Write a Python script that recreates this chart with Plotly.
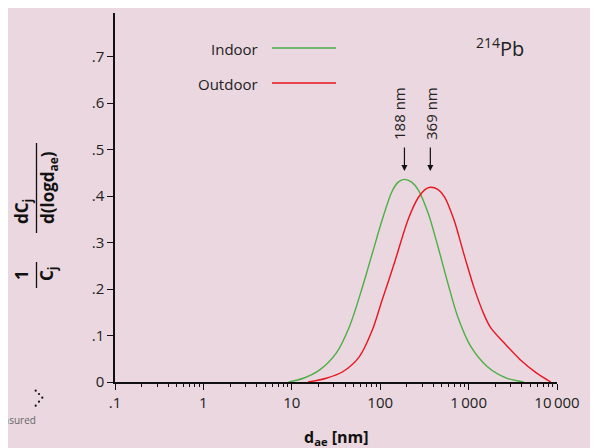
import math
import plotly.graph_objects as go

# ---- data ----
indoor_d = [9.2, 13.5, 20.7, 31.8, 44.8, 63.1, 81.5, 105, 136, 160, 188, 227, 270, 349, 452, 584, 755, 1062, 1632, 2729, 4180]
indoor_v = [0.0, 0.008, 0.026, 0.062, 0.119, 0.205, 0.277, 0.348, 0.410, 0.430, 0.436, 0.430, 0.413, 0.363, 0.290, 0.212, 0.140, 0.076, 0.033, 0.008, 0.0]

outdoor_d = [15.3, 24.5, 37.7, 57.9, 81.5, 105, 125, 148, 209, 270, 321, 369, 452, 535, 680, 895, 1156, 1496, 1775, 2500, 3837, 5890, 8510]
outdoor_v = [0.0, 0.008, 0.022, 0.054, 0.112, 0.176, 0.219, 0.262, 0.352, 0.397, 0.414, 0.419, 0.414, 0.398, 0.350, 0.272, 0.202, 0.145, 0.117, 0.085, 0.048, 0.019, 0.0]

peak_indoor = 188
peak_outdoor = 369

x_tickvals = [0.1, 1, 10, 100, 1000, 10000]
x_ticktext = [".1", "1", "10", "100", "1\u2009000", "10\u2009000"]
y_tickvals = [0, 0.1, 0.2, 0.3, 0.4, 0.5, 0.6, 0.7]
y_ticktext = ["0", ".1", ".2", ".3", ".4", ".5", ".6", ".7"]
minor_vals = [k * 10 ** e for e in range(-1, 4) for k in range(2, 10)]

GREEN = "#4caf45"
RED = "#e8151f"
BG = "#ead7df"
FONT = "Open Sans"

# page geometry: the figure is drawn 8 px in from the page's top-left corner
OFF = 8
W, H = 598, 448
# target page pixels of the plot area
PL, PR_, PT, PB = 115, 557, 13, 382
L = PL - OFF
T = PT - OFF
R = W - (PR_ - OFF)
B = H - (PB - OFF)
PW, PH = PR_ - PL, PB - PT
YMAX = 0.794


def px(x):
    return (x - PL) / PW


def py(y):
    return (PB - y) / PH


fig = go.Figure()
fig.add_trace(go.Scatter(x=indoor_d, y=indoor_v, mode="lines", name="Indoor",
                         line=dict(color=GREEN, width=1.4, shape="spline", smoothing=0.9)))
fig.add_trace(go.Scatter(x=outdoor_d, y=outdoor_v, mode="lines", name="Outdoor",
                         line=dict(color=RED, width=1.4, shape="spline", smoothing=0.9)))

ann = []
shapes = []

# legend (text left of line)
for label, color, ty in [("Indoor", GREEN, 49), ("Outdoor", RED, 84)]:
    ann.append(dict(xref="paper", yref="paper", x=px(260), y=py(ty), text=label,
                    showarrow=False, xanchor="right", yanchor="middle",
                    font=dict(family=FONT, size=15, color="#222")))
    shapes.append(dict(type="line", xref="paper", yref="paper",
                       x0=px(272), x1=px(336), y0=py(ty - 1), y1=py(ty - 1),
                       line=dict(color=color, width=1.5)))

# isotope label
ann.append(dict(xref="paper", yref="paper", x=px(474), y=py(48),
                text="<sup>214</sup>Pb", showarrow=False, xanchor="left", yanchor="middle",
                font=dict(family=FONT, size=20, color="#222")))

# peak annotations
for pk, cx in [(peak_indoor, 399), (peak_outdoor, 431)]:
    ann.append(dict(xref="paper", yref="paper", x=px(cx), y=py(114),
                    text=f"{pk} nm", textangle=-90, showarrow=False,
                    xanchor="center", yanchor="middle",
                    font=dict(family=FONT, size=15, color="#222")))
    ann.append(dict(xref="x", yref="y", x=math.log10(pk), y=(PB - 171) / PH * YMAX,
                    text="", showarrow=True, ax=0, ay=-25, arrowhead=2,
                    arrowsize=1, arrowwidth=1.2, arrowcolor="#111"))

# y-axis label as two stacked fractions (rotated)
bold = dict(family=FONT, size=17, color="#111")
ann += [
    dict(xref="paper", yref="paper", x=px(23), y=py(212), text="<b>dC<sub>j</sub></b>",
         textangle=-90, showarrow=False, xanchor="center", yanchor="middle", font=bold),
    dict(xref="paper", yref="paper", x=px(48), y=py(188), text="<b>d(logd<sub>ae</sub>)</b>",
         textangle=-90, showarrow=False, xanchor="center", yanchor="middle", font=bold),
    dict(xref="paper", yref="paper", x=px(21), y=py(275), text="<b>1</b>",
         textangle=-90, showarrow=False, xanchor="center", yanchor="middle", font=bold),
    dict(xref="paper", yref="paper", x=px(47), y=py(274), text="<b>C<sub>j</sub></b>",
         textangle=-90, showarrow=False, xanchor="center", yanchor="middle", font=bold),
]
shapes += [
    dict(type="line", xref="paper", yref="paper", x0=px(36.5), x1=px(36.5),
         y0=py(143), y1=py(233), line=dict(color="#111", width=1.3)),
    dict(type="line", xref="paper", yref="paper", x0=px(36.5), x1=px(36.5),
         y0=py(262), y1=py(288), line=dict(color="#111", width=1.3)),
]

# x-axis title
ann.append(dict(xref="paper", yref="paper", x=px(336), y=py(437),
                text="<b>d<sub>ae</sub> [nm]</b>", showarrow=False,
                xanchor="center", yanchor="middle",
                font=dict(family=FONT, size=16, color="#111")))

# clipped "Measured" note and dots
ann.append(dict(xref="paper", yref="paper", x=px(38), y=py(420), text="Measured",
                showarrow=False, xanchor="right", yanchor="middle",
                font=dict(family=FONT, size=10, color="#666")))
for dx, dy in [(35.7, 390.7), (39, 394), (42.3, 397.7), (39, 401.7), (35.7, 405.7)]:
    shapes.append(dict(type="circle", xref="paper", yref="paper",
                       x0=px(dx - 1.1), x1=px(dx + 1.1), y0=py(dy + 1.1), y1=py(dy - 1.1),
                       fillcolor="#111", line=dict(width=0)))

fig.update_layout(
    width=W, height=H,
    margin=dict(l=L, r=R, t=T, b=B),
    paper_bgcolor=BG, plot_bgcolor=BG,
    showlegend=False,
    font=dict(family=FONT, size=15, color="#222"),
    annotations=ann, shapes=shapes,
    xaxis=dict(type="log", range=[-1, 4], tickmode="array", tickvals=x_tickvals,
               ticktext=x_ticktext, showline=True, linecolor="#111", linewidth=1.5,
               ticks="outside", ticklen=6, tickwidth=1.2, tickcolor="#111",
               showgrid=False, zeroline=False,
               minor=dict(tickmode="array", tickvals=minor_vals, ticks="outside",
                          ticklen=3, tickwidth=1, tickcolor="#111", showgrid=False)),
    yaxis=dict(range=[0, YMAX], tickmode="array", tickvals=y_tickvals,
               ticktext=y_ticktext, showline=True, linecolor="#111", linewidth=1.5,
               ticks="outside", ticklen=6, tickwidth=1.2, tickcolor="#111",
               showgrid=False, zeroline=False),
)

fig.write_html("out.html")
